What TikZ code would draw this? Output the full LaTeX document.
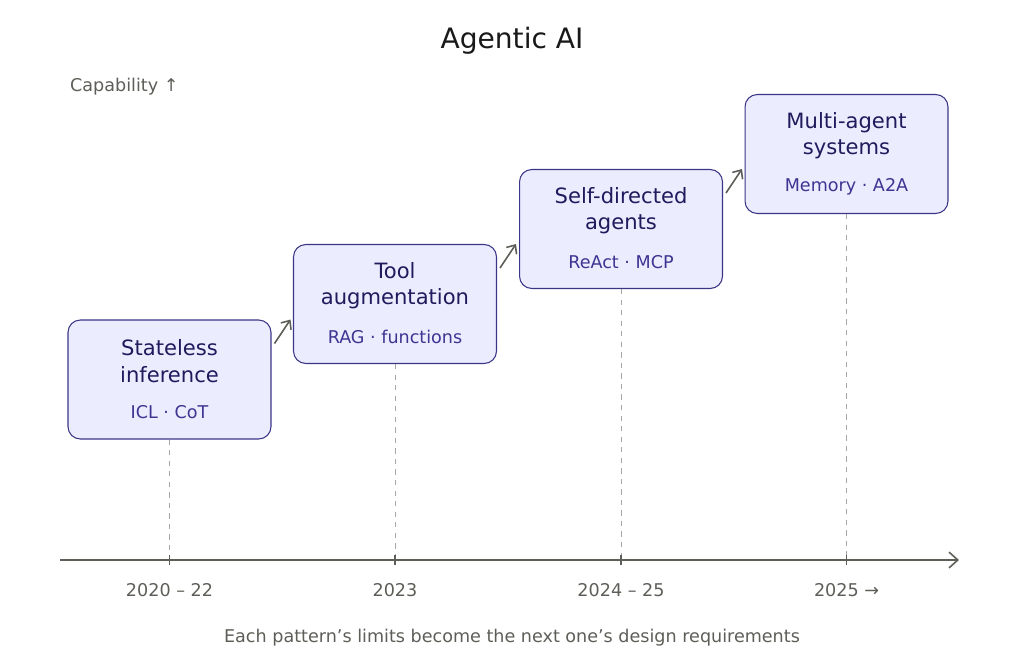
\documentclass[tikz,border=0pt]{standalone}
\usepackage{fontspec}
\setmainfont{DejaVu Sans}
\usetikzlibrary{arrows.meta,positioning}
\definecolor{boxfill}{HTML}{ECECFF}
\definecolor{boxline}{HTML}{3A3585}
\definecolor{boxtext}{HTML}{1F1B5C}
\definecolor{subtext}{HTML}{3D3592}
\definecolor{axisgrey}{HTML}{5E5E58}
\tikzset{
  stage/.style={draw=boxline, fill=boxfill, rounded corners=7pt, minimum width=4.06cm, minimum height=2.38cm, line width=0.6pt},
  head/.style={text=boxtext, font=\fontsize{12}{15}\selectfont, align=center},
  sub/.style={text=subtext, font=\fontsize{10}{12}\selectfont},
  year/.style={text=axisgrey, font=\fontsize{10}{12}\selectfont},
  advance/.style={draw=axisgrey, line width=0.9pt, -{Straight Barb[length=4pt,width=7pt]}},
  guide/.style={draw=gray!70, dashed, line width=0.5pt}
}
\begin{document}
\begin{tikzpicture}[x=0.02cm,y=-0.02cm]
\useasboundingbox (0,0) rectangle (1024,663);
\node[font=\fontsize{16}{19}\selectfont, text=black!90] (title) at (512,41) {Agentic AI};
\node[anchor=west, year] (cap) at (64,87) {Capability ↑};

\node[stage] (s1) at (169.5,379.5) {};
\node[stage] (s2) at (395,304) {};
\node[stage] (s3) at (621,229) {};
\node[stage] (s4) at (846.5,154) {};

\node[head] (h1) at (169.5,361) {Stateless\\inference};
\node[sub] (b1) at (169.5,412) {ICL · CoT};
\node[head] (h2) at (395,286) {Tool\\augmentation};
\node[sub] (b2) at (395,337) {RAG · functions};
\node[head] (h3) at (621,211) {Self-directed\\agents};
\node[sub] (b3) at (621,262) {ReAct · MCP};
\node[head] (h4) at (846.5,136) {Multi-agent\\systems};
\node[sub] (b4) at (846.5,187) {Memory · A2A};

\coordinate (a0) at (60,560);
\coordinate (a1) at (959,560);
\draw[axisgrey, line width=0.9pt, -{Straight Barb[length=5pt,width=9pt]}] (a0) -- (a1);

\foreach \i/\yr in {1/2020 – 22,2/2023,3/2024 – 25,4/2025 →}{
  \coordinate (t\i) at (s\i.south |- a0);
  \draw[guide] (s\i.south) -- (t\i);
  \draw[axisgrey, line width=0.8pt] ([shift={(0,-5)}]t\i) -- ([shift={(0,5)}]t\i);
  \node[year] (y\i) at ([shift={(0,30)}]t\i) {\yr};
}

\foreach \i/\j in {1/2,2/3,3/4}
  \draw[advance] ([shift={(3,-36)}]s\i.east) -- ([shift={(19,-60)}]s\i.east);

\node[year] (note) at (512,638) {Each pattern's limits become the next one's design requirements};
\end{tikzpicture}
\end{document}
